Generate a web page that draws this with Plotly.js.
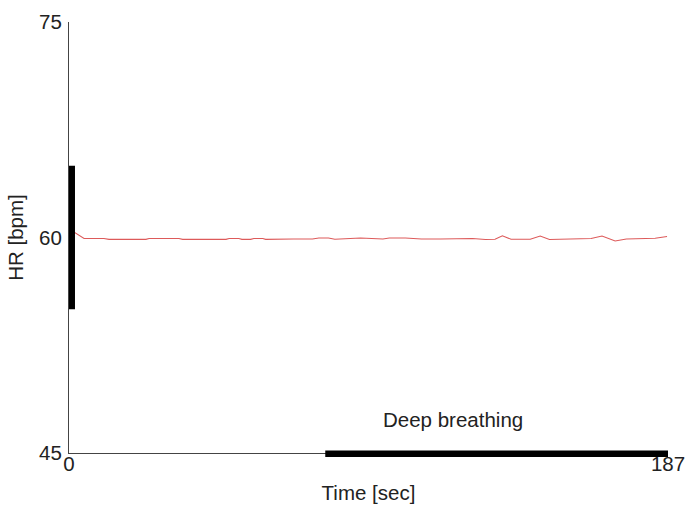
<!DOCTYPE html>
<html>
<head>
<meta charset="utf-8">
<script src="https://cdn.plot.ly/plotly-3.0.1.min.js"></script>
<style>
  html, body { margin: 0; padding: 0; background: #fff; }
  #chart { width: 685px; height: 513px; }
</style>
</head>
<body>
<div id="chart"></div>
<script>
// Heart rate trace over the recording (seconds, beats per minute)
const timeSec = [0, 4.7, 10.9, 12.5, 24, 25, 34.3, 35.5, 49, 50, 53, 54, 56.7, 57.7, 60.5, 61.4,
  70, 76, 78, 81, 83, 88, 91, 98, 100, 105, 110, 116, 120, 126, 130, 133, 135.3, 138, 144,
  147.1, 150, 158, 163, 166.4, 170.5, 174, 180, 183, 186.7];
const heartRate = [60.6, 59.93, 59.93, 59.87, 59.87, 59.93, 59.93, 59.87, 59.87, 59.93, 59.93, 59.87, 59.87, 59.93, 59.93, 59.87,
  59.9, 59.9, 59.96, 59.96, 59.88, 59.96, 59.96, 59.9, 59.96, 59.96, 59.9, 59.9, 59.93, 59.93, 59.86, 59.88, 60.12, 59.88, 59.88,
  60.1, 59.86, 59.88, 59.93, 60.1, 59.76, 59.9, 59.9, 59.95, 60.07];

// Protocol markers
const baselineBand = [55, 65];          // HR band marked on the y axis
const deepBreathing = [80, 187];        // deep breathing interval (s)
const phaseLabel = 'Deep breathing';
const phaseLabelAt = [120, 47.35];      // label position (s, bpm)

const xTicks = [0, 187];
const yTicks = [45, 60, 75];

const font = { family: 'Liberation Sans, Arial, sans-serif', size: 20.5, color: '#222' };

const traces = [{
  x: timeSec,
  y: heartRate,
  type: 'scatter',
  mode: 'lines',
  line: { color: '#dd5a5a', width: 1.1 },
  hoverinfo: 'skip'
}];

const layout = {
  width: 685,
  height: 513,
  margin: { l: 69, r: 17, t: 22, b: 60 },
  paper_bgcolor: '#fff',
  plot_bgcolor: '#fff',
  showlegend: false,
  font: font,
  xaxis: {
    range: [0, 187],
    tickvals: xTicks,
    ticktext: xTicks.map(String),
    ticks: 'inside',
    ticklen: 5,
    tickcolor: '#444',
    showline: true,
    linecolor: '#444',
    linewidth: 1,
    showgrid: false,
    zeroline: false,
    tickfont: font,
    ticklabelstandoff: -8,
    ticklabeloverflow: 'allow',
    title: { text: 'Time [sec]', font: font, standoff: 12 }
  },
  yaxis: {
    range: [45, 75],
    tickvals: yTicks,
    ticktext: yTicks.map(String),
    ticks: 'inside',
    ticklen: 5,
    tickcolor: '#444',
    showline: true,
    linecolor: '#444',
    linewidth: 1,
    showgrid: false,
    zeroline: false,
    tickfont: font,
    ticklabelstandoff: 2,
    ticklabeloverflow: 'allow',
    title: { text: 'HR [bpm]', font: font, standoff: 9 }
  },
  shapes: [
    {
      type: 'rect', xref: 'paper', yref: 'y',
      x0: 0, x1: 0.01, y0: baselineBand[0], y1: baselineBand[1],
      fillcolor: '#000', line: { width: 0 }, layer: 'above'
    },
    {
      type: 'rect', xref: 'x', yref: 'paper',
      x0: deepBreathing[0], x1: deepBreathing[1], y0: -0.009, y1: 0.006,
      fillcolor: '#000', line: { width: 0 }, layer: 'above'
    }
  ],
  annotations: [{
    text: phaseLabel,
    xref: 'x', yref: 'y',
    x: phaseLabelAt[0],
    y: phaseLabelAt[1],
    showarrow: false,
    font: font,
    xanchor: 'center', yanchor: 'middle'
  }]
};

Plotly.newPlot('chart', traces, layout, { staticPlot: true, displayModeBar: false });
</script>
</body>
</html>
